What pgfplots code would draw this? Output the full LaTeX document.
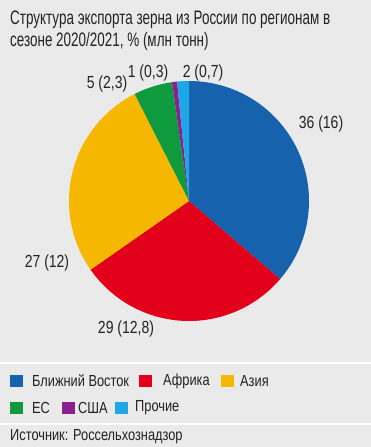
\documentclass[border=0pt]{standalone}
\usepackage{pgfplots}
\pgfplotsset{compat=1.18}
\usepackage{fontspec}
\setmainfont[FakeStretch=0.8]{Liberation Sans}
\newfontfamily\titlefont[FakeStretch=0.69]{Liberation Sans}
\definecolor{bg}{RGB}{234,234,234}
\definecolor{txt}{RGB}{35,35,35}
\definecolor{cBlue}{RGB}{22,98,172}
\definecolor{cRed}{RGB}{226,0,26}
\definecolor{cYellow}{RGB}{246,183,0}
\definecolor{cGreen}{RGB}{15,154,62}
\definecolor{cPurple}{RGB}{139,31,141}
\definecolor{cLight}{RGB}{31,166,230}
% values, mln t
\def\vA{16}\def\vB{12.8}\def\vC{12}\def\vD{2.3}\def\vE{0.3}\def\vF{0.7}
\begin{document}
\begin{tikzpicture}[x=1pt,y=1pt]
\fill[bg] (0,0) rectangle (371,447);
\useasboundingbox (0,0) rectangle (371,447);
\pgfmathsetmacro{\tot}{\vA+\vB+\vC+\vD+\vE+\vF}
\pgfmathsetmacro{\aO}{90}
\pgfmathsetmacro{\aA}{90-360*\vA/\tot}
\pgfmathsetmacro{\aB}{\aA-360*\vB/\tot}
\pgfmathsetmacro{\aC}{\aB-360*\vC/\tot}
\pgfmathsetmacro{\aD}{\aC-360*\vD/\tot}
\pgfmathsetmacro{\aE}{\aD-360*\vE/\tot}
\pgfmathsetmacro{\aF}{\aE-360*\vF/\tot}
\begin{axis}[at={(189pt,246pt)}, anchor=center, scale only axis,
  width=240pt, height=240pt, xmin=-1, xmax=1, ymin=-1, ymax=1,
  hide axis, clip=false]
\addplot[fill=cBlue, draw=none, domain=\aA:\aO, samples=120] ({cos(x)},{sin(x)}) -- (axis cs:0,0) -- cycle;
\addplot[fill=cRed, draw=none, domain=\aB:\aA, samples=100] ({cos(x)},{sin(x)}) -- (axis cs:0,0) -- cycle;
\addplot[fill=cYellow, draw=none, domain=\aC:\aB, samples=100] ({cos(x)},{sin(x)}) -- (axis cs:0,0) -- cycle;
\addplot[fill=cGreen, draw=none, domain=\aD:\aC, samples=30] ({cos(x)},{sin(x)}) -- (axis cs:0,0) -- cycle;
\addplot[fill=cPurple, draw=none, domain=\aE:\aD, samples=10] ({cos(x)},{sin(x)}) -- (axis cs:0,0) -- cycle;
\addplot[fill=cLight, draw=none, domain=\aF:\aE, samples=10] ({cos(x)},{sin(x)}) -- (axis cs:0,0) -- cycle;
\end{axis}
% title
\node[anchor=base west, text=txt, font=\titlefont\fontsize{19.5}{22}\selectfont, inner sep=0] at (10,422) {Структура экспорта зерна из России по регионам в};
\node[anchor=base west, text=txt, font=\titlefont\fontsize{19.5}{22}\selectfont, inner sep=0] at (10,400) {сезоне 2020/2021, \% (млн тонн)};
% pie labels
\begin{scope}[every node/.style={text=txt, font=\fontsize{17.5}{20}\selectfont, inner sep=0}]
\node at (321,323) {36 (16)};
\node at (126,118) {29 (12,8)};
\node at (47,184) {27 (12)};
\node at (107,363) {5 (2,3)};
\node at (148,374) {1 (0,3)};
\node at (203,374) {2 (0,7)};
\end{scope}
% separators
\draw[white, line width=2pt] (0,84.3) -- (371,84.3);
\draw[white, line width=2pt] (0,23) -- (371,23);
% legend
\begin{scope}[every node/.style={text=txt, font=\fontsize{16}{19}\selectfont, inner sep=0, anchor=west}]
\fill[cBlue] (10,60) rectangle (23,72);
\node at (32,66) {Ближний Восток};
\fill[cRed] (139,60) rectangle (152,72);
\node at (163,66) {Африка};
\fill[cYellow] (221,60) rectangle (234,72);
\node at (240,66) {Азия};
\fill[cGreen] (10,33) rectangle (23,45);
\node at (32,39) {ЕС};
\fill[cPurple] (62,33) rectangle (75,45);
\node at (78,39) {США};
\fill[cLight] (115,33) rectangle (128,45);
\node at (135,39) {Прочие};
\node at (10,10) {Источник: Россельхознадзор};
\end{scope}
\end{tikzpicture}
\end{document}
